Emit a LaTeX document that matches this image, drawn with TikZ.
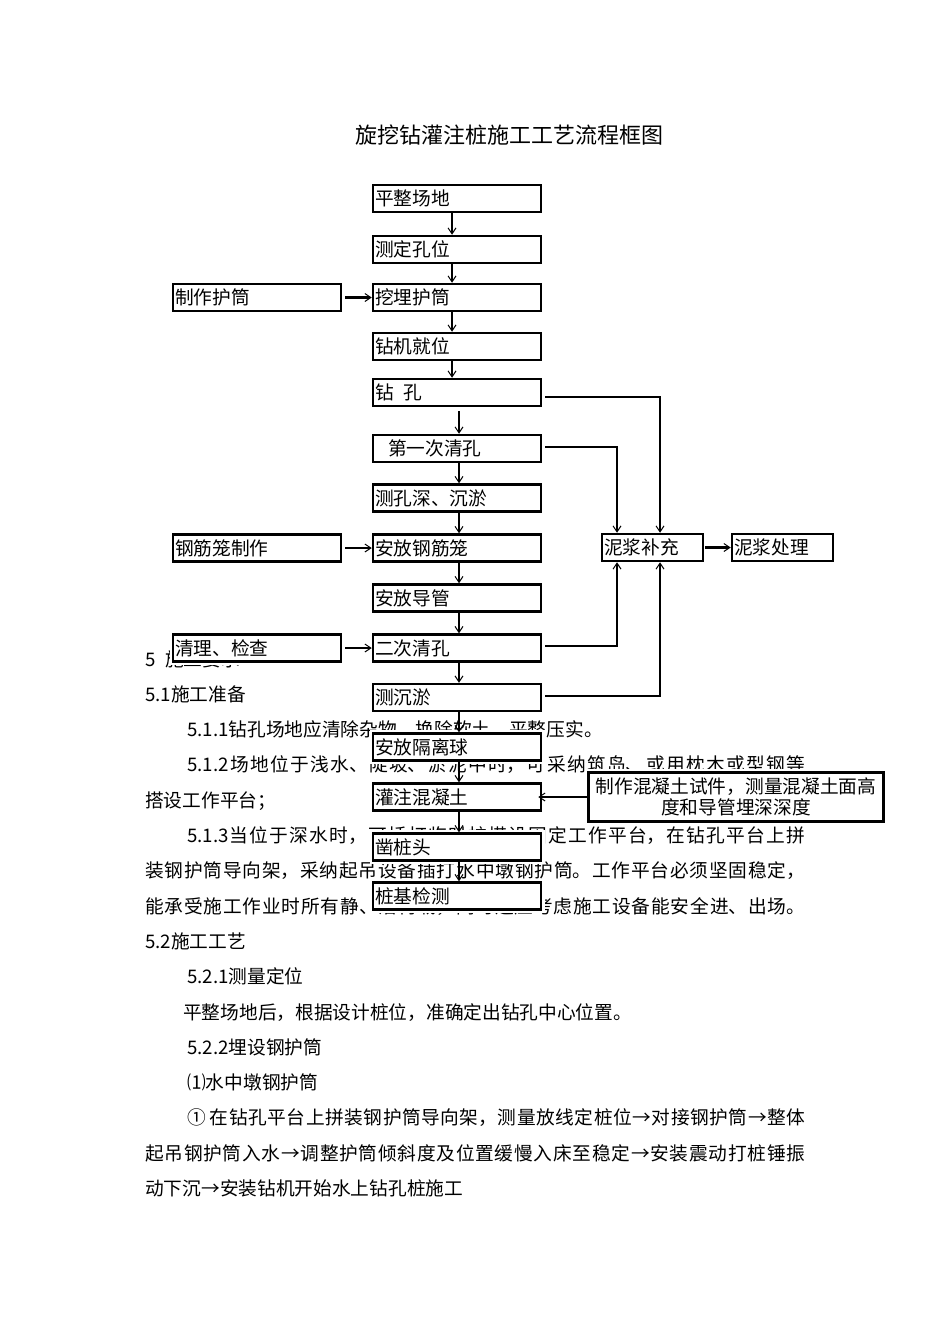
\documentclass[tikz,border=0pt]{standalone}
\usepackage{fontspec}
\setmainfont{Noto Sans CJK SC}
\usetikzlibrary{arrows.meta}
\XeTeXlinebreaklocale "zh"
\XeTeXlinebreakskip=0pt
\tolerance=9999
\hbadness=10000
\newcommand\bodyfont{\fontsize{18.7pt}{22pt}\selectfont}
\newcommand\jline[2]{\parbox[b]{#1pt}{\XeTeXlinebreakskip=0pt plus 12pt\relax\bodyfont\parfillskip=0pt\relax\noindent #2\par}}
\tikzset{
  mainbox/.style={draw, line width=2.5pt, fill=white,
    preaction={draw=white, line width=7pt},
    minimum height=27pt, text width=164pt, inner xsep=2pt, inner ysep=0pt,
    align=left, text height=14pt, text depth=0pt, font=\bodyfont},
  sidebox/.style={mainbox, text width=97pt},
  concbox/.style={draw, line width=2.5pt, fill=white,
    preaction={draw=white, line width=7pt},
    minimum height=49pt, text width=291pt, inner xsep=2pt, inner ysep=0pt,
    align=center, font=\fontsize{18.7pt}{21pt}\selectfont},
  tip/.tip={Straight Barb[length=6pt,width=8pt,line width=1pt]},
  varr/.style={line width=2.5pt, -tip},
  conn/.style={line width=2pt, -tip},
  body/.style={anchor=base west, inner sep=0pt, font=\bodyfont},
}
\begin{document}
\begin{tikzpicture}[x=1pt,y=-1pt]
\fill[white] (0,0) rectangle (950,1344);
\useasboundingbox (0,0) rectangle (950,1344);

% title
\node[inner sep=0pt, font=\fontsize{22pt}{24pt}\selectfont] (ttl) at (509,135) {旋挖钻灌注桩施工工艺流程框图};

% body text (drawn first, partly covered by the boxes)
\node[body] (t0) at (145,666) {5\hspace{9.5pt}施工要求};
\node[body] (t1) at (145,701.3) {5.1施工准备};
\node[body] (t2) at (187,736.6) {5.1.1钻孔场地应清除杂物、换除软土、平整压实。};
\node[body] (t3) at (187,771.9) {\jline{618}{5.1.2场地位于浅水、陡坡、淤泥中时，可采纳筑岛、或用枕木或型钢等}};
\node[body] (t4) at (145,807.2) {搭设工作平台；};
\node[body] (t5) at (187,842.5) {\jline{618}{5.1.3当位于深水时，可插打临时桩搭设固定工作平台，在钻孔平台上拼}};
\node[body] (t6) at (145,877.8) {\jline{660}{装钢护筒导向架，采纳起吊设备插打水中墩钢护筒。工作平台必须坚固稳定，}};
\node[body] (t7) at (145,913.1) {\jline{660}{能承受施工作业时所有静、活荷载，同时还应考虑施工设备能安全进、出场。}};
\node[body] (t8) at (145,948.4) {5.2施工工艺};
\node[body] (t9) at (187,983.7) {5.2.1测量定位};
\node[body] (t10) at (183,1019) {平整场地后，根据设计桩位，准确定出钻孔中心位置。};
\node[body] (t11) at (187,1054.3) {5.2.2埋设钢护筒};
\node[body] (t12) at (187,1089.6) {⑴水中墩钢护筒};
\node[body] (t13) at (187,1124.9) {\jline{618}{①\hspace{4pt}在钻孔平台上拼装钢护筒导向架，测量放线定桩位→对接钢护筒→整体}};
\node[body] (t14) at (145,1160.2) {\jline{660}{起吊钢护筒入水→调整护筒倾斜度及位置缓慢入床至稳定→安装震动打桩锤振}};
\node[body] (t15) at (145,1195.5) {动下沉→安装钻机开始水上钻孔桩施工};

% main column
\node[mainbox] (b1) at (457,198.5) {平整场地};
\node[mainbox] (b2) at (457,249.5) {测定孔位};
\node[mainbox] (b3) at (457,297.5) {挖埋护筒};
\node[mainbox] (b4) at (457,346.5) {钻机就位};
\node[mainbox] (b5) at (457,392.5) {钻\hspace{10pt}孔};
\node[mainbox] (b6) at (457,448.5) {\hspace*{13pt}第一次清孔};
\node[mainbox] (b7) at (457,498) {测孔深、沉淤};
\node[mainbox] (b8) at (457,548) {安放钢筋笼};
\node[mainbox] (b9) at (457,598) {安放导管};
\node[mainbox] (b10) at (457,648) {二次清孔};
\node[mainbox] (b11) at (457,697.5) {测沉淤};
\node[mainbox] (b12) at (457,747) {安放隔离球};
\node[mainbox] (b13) at (457,797) {灌注混凝土};
\node[mainbox] (b14) at (457,847) {凿桩头};
\node[mainbox] (b15) at (457,896) {桩基检测};

% left column
\node[mainbox] (l1) at (257,297.5) {制作护筒};
\node[mainbox] (l2) at (257,548) {钢筋笼制作};
\node[mainbox] (l3) at (257,648) {清理、检查};

% right side
\node[sidebox] (nb) at (652.5,547.5) {泥浆补充};
\node[sidebox] (nc) at (782.5,547.5) {泥浆处理};
\node[concbox] (hz) at (736,797) {制作混凝土试件，测量混凝土面高\\度和导管埋深深度};

% main arrows
\draw[varr] ([xshift=-5pt]b1.south) -- ([xshift=-5pt]b2.north);
\draw[varr] ([xshift=-5pt]b2.south) -- ([xshift=-5pt]b3.north);
\draw[varr] ([xshift=-5pt]b3.south) -- ([xshift=-5pt]b4.north);
\draw[varr] ([xshift=-5pt]b4.south) -- ([xshift=-5pt]b5.north);
\draw[varr] ([xshift=2pt,yshift=-4pt]b5.south) -- ([xshift=2pt]b6.north);
\foreach \a/\b in {b6/b7,b7/b8,b8/b9,b9/b10,b10/b11,b11/b12,b12/b13,b13/b14,b14/b15}
  \draw[varr] ([xshift=2pt]\a.south) -- ([xshift=2pt]\b.north);

% side arrows
\draw[varr] ([xshift=3pt]l1.east) -- (b3.west);
\draw[varr] ([xshift=3pt]l2.east) -- (b8.west);
\draw[varr] ([xshift=3pt]l3.east) -- (b10.west);
\draw[varr] ([xshift=1pt]nb.east) -- (nc.west);
\draw[varr] (hz.west) -- ([xshift=-4pt]b13.east);

% mud connectors
\draw[conn] ([xshift=3pt,yshift=-4.5pt]b5.east) -| ([xshift=7.5pt]nb.north);
\draw[conn] ([xshift=3pt,yshift=1.5pt]b6.east) -| ([xshift=-35.5pt]nb.north);
\draw[conn] ([xshift=3pt,yshift=2pt]b10.east) -| ([xshift=-35.5pt]nb.south);
\draw[conn] ([xshift=3pt,yshift=1.5pt]b11.east) -| ([xshift=7.5pt]nb.south);
\end{tikzpicture}
\end{document}
